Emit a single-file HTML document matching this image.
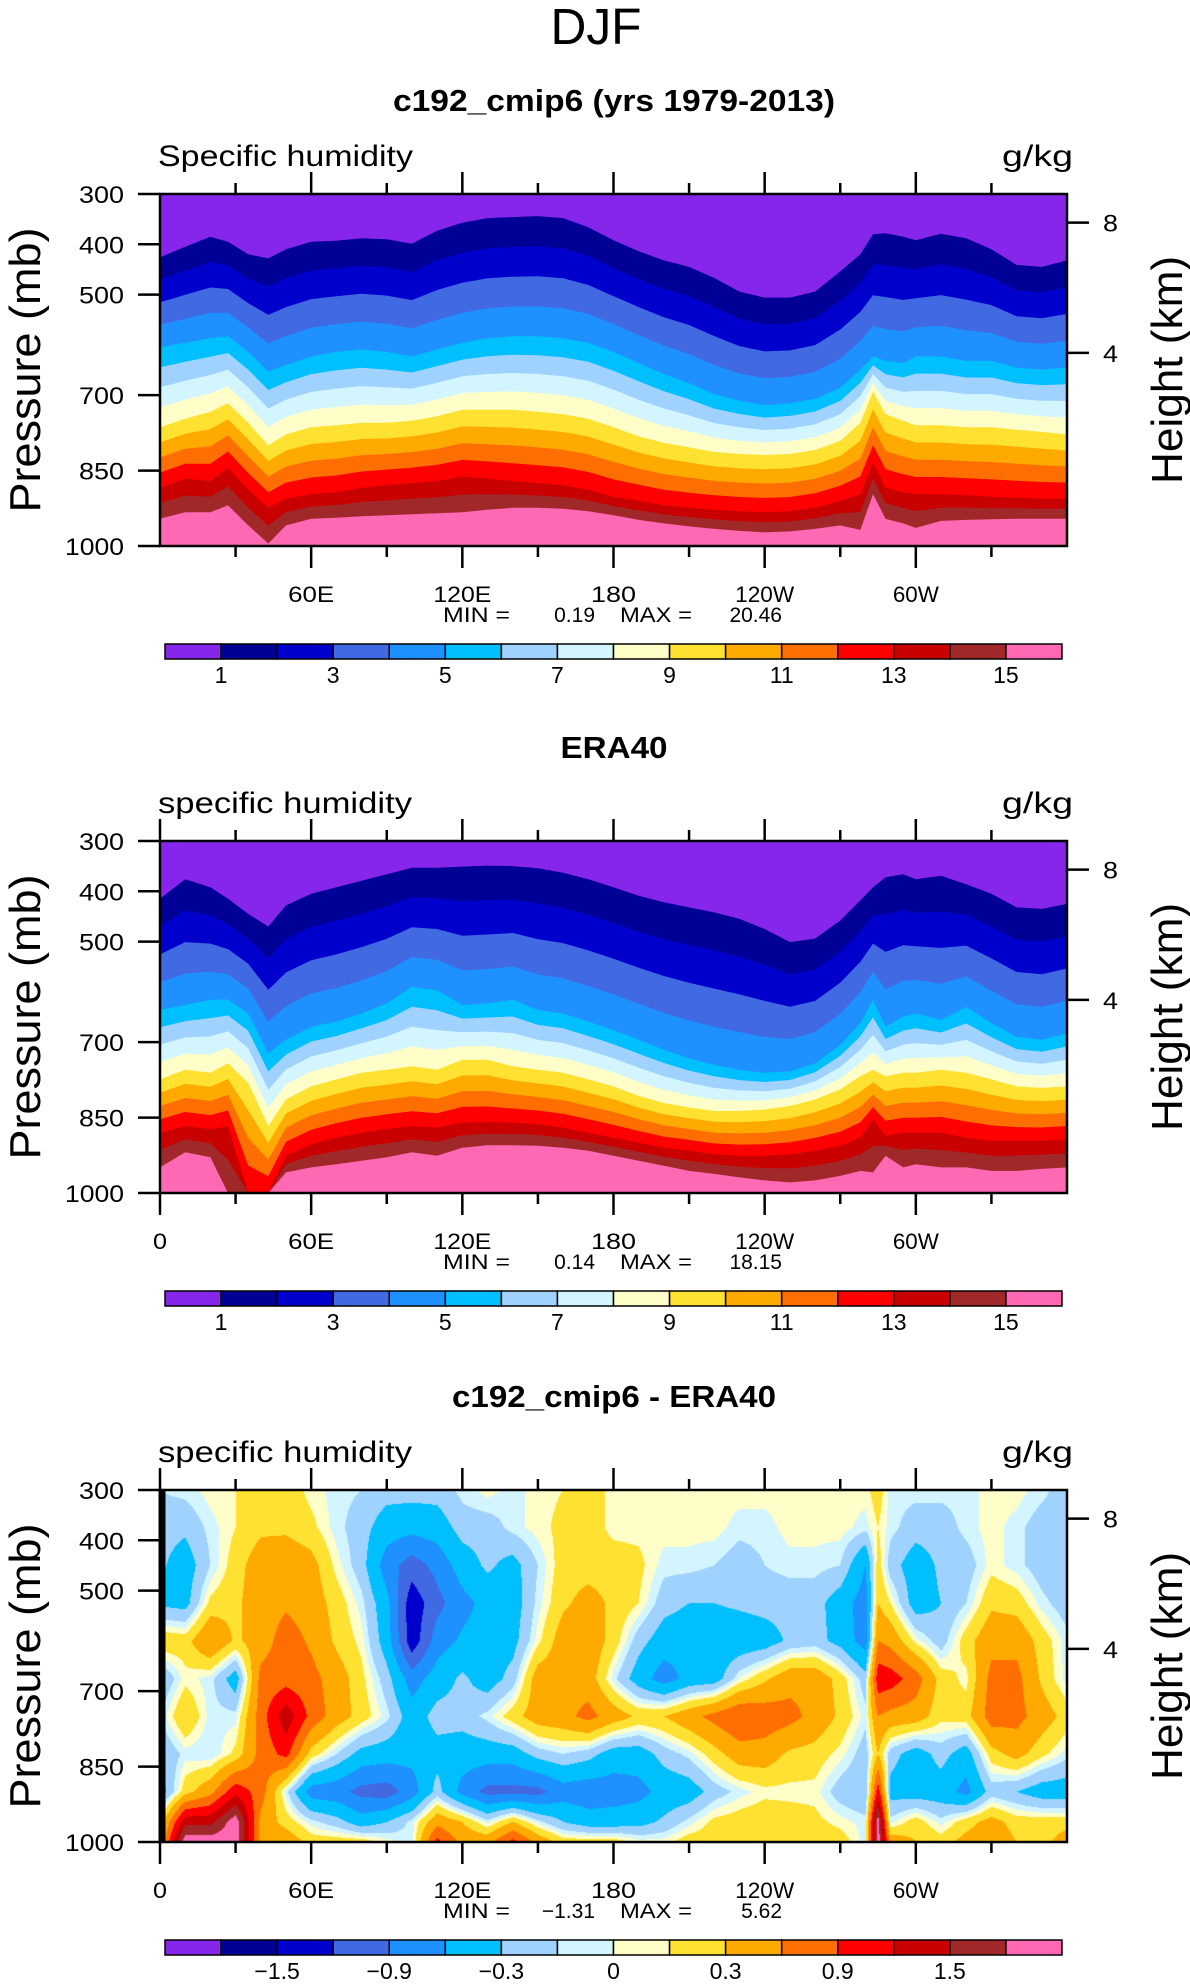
<!DOCTYPE html>
<html><head><meta charset="utf-8"><style>
html,body{margin:0;padding:0;background:#fff;}
#wrap{position:relative;width:1190px;height:1987px;overflow:hidden;}
#diffCanvas{position:absolute;left:160px;top:1490px;}
svg{position:absolute;left:0;top:0;}
text{font-family:"Liberation Sans",sans-serif;fill:#000;}
</style></head><body>
<div id="wrap">
<canvas id="diffCanvas" width="907" height="352"></canvas>
<svg id="fig" width="1190" height="1987" viewBox="0 0 1190 1987" xmlns="http://www.w3.org/2000/svg"></svg>
</div>
<script>
// ---------- data ----------
const LON = [0,10,20,27,35,43,50,60,70,80,90,100,110,120,130,140,150,160,170,180,190,200,210,220,230,240,250,260,270,278,283,288,295,300,310,320,330,340,350,360];
// model: pressure (mb) of q contours 1,5,9,13,15 g/kg
const M_Q1 = [426,405,385,395,420,428,410,395,393,388,390,399,373,357,348,346,344,348,366,392,414,432,445,467,494,506,506,494,454,420,380,378,385,392,379,388,410,441,445,432];
const M_Q5 = [605,596,587,583,614,653,640,623,614,609,614,623,609,596,587,583,583,587,596,614,636,658,676,698,711,720,716,707,685,649,623,632,636,623,623,632,632,645,649,645];
const M_Q9 = [764,747,733,716,755,800,778,764,760,755,755,751,742,729,729,729,733,738,747,764,782,795,804,813,817,819,817,809,791,755,693,738,751,760,760,764,764,769,773,778];
const M_Q13 = [884,866,871,844,888,924,906,897,893,884,879,875,871,862,866,871,875,879,888,902,910,919,924,928,931,933,931,924,910,897,835,884,893,897,897,899,902,904,906,906];
const M_Q15 = [946,933,933,919,959,995,959,946,944,941,939,937,935,933,928,924,924,926,931,939,948,955,961,966,970,973,971,966,959,968,897,946,955,964,950,948,947,946,946,946];
// ERA40
const E_Q1 = [415,376,392,415,445,470,428,405,392,379,366,353,353,351,349,350,354,363,376,392,409,422,432,442,455,475,501,494,458,418,392,372,366,376,369,386,405,432,435,425];
const E_Q5 = [636,626,616,615,643,722,695,669,659,643,623,590,597,626,623,616,636,643,659,676,695,715,732,745,755,761,758,742,705,662,616,669,649,643,656,630,662,689,695,682];
const E_Q9 = [774,755,761,742,781,867,814,788,774,761,755,748,755,735,735,748,755,761,774,788,807,821,830,837,837,834,827,814,794,768,755,768,761,761,755,761,774,788,791,788];
const E_Q13 = [880,867,873,867,1000,1000,926,903,890,880,873,867,870,860,859,860,863,870,880,890,900,910,916,923,926,926,923,916,906,890,854,886,880,880,880,890,896,896,896,893];
const E_Q15 = [949,919,929,1000,1000,1000,959,949,943,936,929,919,926,910,905,905,906,910,916,926,936,946,956,962,969,975,979,975,966,956,959,926,949,943,949,949,956,956,952,949];
const Q_ANCHORS = [1,5,9,13,15];
const Q_LEVELS = [1,2,3,4,5,6,7,8,9,10,11,12,13,14,15];
const Q_TICKS = ["1","3","5","7","9","11","13","15"];
// difference grid
const D_LON = [0,10,20,30,40,50,60,70,80,90,100,110,120,130,140,150,160,170,180,190,200,210,220,230,240,250,260,270,280,285,290,300,310,320,330,340,350,360];
const D_P = [300,375,450,525,600,675,750,825,900,960,1000];
const D300 = [-0.1,-0.05,0.05,0.1,0.2,0.2,0.05,-0.05,-0.1,-0.2,-0.2,-0.2,-0.05,0.05,-0.05,0.05,0.1,0.2,0.05,0.05,0.05,0.05,0.05,0.05,0.05,0.05,0.05,0.05,0.05,0.2,-0.05,-0.05,-0.05,-0.05,0.05,0.05,-0.05,-0.2];
const D375 = [-0.2,-0.25,-0.05,0.1,0.25,0.25,0.15,-0.05,-0.2,-0.45,-0.5,-0.45,-0.2,-0.2,-0.05,0.05,0.15,0.2,0.05,0.05,0.05,0.05,0.05,-0.05,-0.05,0.05,0.05,0.05,-0.05,0.1,-0.05,-0.2,-0.2,-0.05,0.05,-0.05,-0.2,-0.2];
const D450 = [-0.25,-0.45,-0.1,0.2,0.45,0.5,0.4,0.05,-0.2,-0.75,-1.05,-0.8,-0.45,-0.25,-0.4,-0.1,0.2,0.2,0.2,0.15,-0.05,-0.05,-0.1,-0.2,-0.1,-0.05,-0.05,-0.1,-0.6,0.2,-0.2,-0.45,-0.25,-0.2,0.05,-0.05,-0.2,-0.25];
const D525 = [-0.35,-0.4,0.15,0.25,0.45,0.55,0.45,0.2,-0.05,-0.5,-1.4,-1.0,-0.7,-0.5,-0.45,-0.05,0.25,0.4,0.25,0.1,-0.2,-0.3,-0.3,-0.25,-0.2,-0.2,-0.2,-0.45,-0.75,0.3,0.1,-0.45,-0.3,-0.1,0.25,0.2,-0.05,-0.2];
const D600 = [0.25,0.2,0.6,0.25,0.45,0.75,0.55,0.25,0.05,-0.45,-1.4,-0.75,-0.55,-0.45,-0.4,0.05,0.45,0.5,0.2,-0.2,-0.45,-0.5,-0.5,-0.5,-0.45,-0.25,-0.2,-0.4,-0.75,0.6,0.5,0.05,-0.2,0.2,0.5,0.5,0.2,-0.05];
const D675 = [-0.3,0.05,-0.05,-0.45,0.7,0.75,0.7,0.45,0.15,-0.2,-0.75,-0.45,-0.25,-0.45,-0.2,0.45,0.45,0.45,-0.05,-0.45,-0.75,-0.5,-0.45,0.0,0.25,0.5,0.5,0.2,-0.2,1.1,1.05,0.75,0.2,0.05,0.7,0.7,0.25,-0.05];
const D750 = [-0.1,0.3,-0.05,-0.05,0.75,1.4,0.8,0.45,0.2,-0.05,-0.45,-0.2,-0.2,-0.05,0.2,0.45,0.5,0.7,0.45,0.25,0.3,0.5,0.7,0.9,0.8,0.7,0.5,0.25,-0.05,0.6,0.5,0.45,0.15,0.2,0.75,0.7,0.45,0.2];
const D825 = [-0.3,-0.05,-0.1,0.15,0.7,1.0,0.2,-0.1,-0.4,-0.45,-0.5,-0.4,-0.45,-0.45,-0.45,-0.2,-0.1,-0.2,-0.45,-0.45,-0.2,-0.05,0.2,0.45,0.45,0.25,0.2,0.05,-0.2,0.3,-0.2,-0.45,-0.2,-0.45,0.2,0.4,0.15,-0.05];
const D900 = [-0.45,0.2,0.5,1.1,0.75,-0.05,-0.75,-0.8,-1.0,-1.05,-0.75,-0.2,-0.7,-1.0,-1.0,-1.0,-0.75,-0.8,-0.75,-0.7,-0.5,-0.45,-0.2,-0.05,0.05,0.05,0.05,-0.2,-0.3,1.1,-0.4,-0.45,-0.45,-0.7,-0.2,-0.3,-0.45,-0.45];
const D960 = [0.1,1.4,1.4,2.0,0.5,0.2,-0.05,-0.2,-0.45,-0.3,-0.05,0.5,0.3,-0.05,0.3,-0.05,-0.3,-0.45,-0.45,-0.4,-0.25,-0.05,0.15,0.2,0.25,0.2,0.15,0.05,-0.05,2.0,-0.05,0.2,-0.05,0.2,0.4,0.2,0.2,0.2];
const D1000 = [0.3,2.0,2.0,2.0,0.5,0.5,0.2,0.2,0.2,0.05,-0.05,1.0,0.5,0.5,1.0,0.5,0.2,0.2,0.2,0.05,0.05,0.2,0.2,0.2,0.2,0.2,0.2,0.2,-0.05,2.0,0.5,0.3,0.2,0.4,0.5,0.3,0.2,0.45];
const D_LEVELS = [-1.8,-1.5,-1.2,-0.9,-0.6,-0.3,-0.1,0,0.1,0.3,0.6,0.9,1.2,1.5,1.8];
const D_TICKS = ["\u22121.5","\u22120.9","\u22120.3","0","0.3","0.9","1.5"];
const P_TICKS = [300,400,500,700,850,1000];
const KM_TICKS = [8,4];
const KM_P = [357,616];
const LON_MAJOR = [0,60,120,180,240,300];
const LON_LABELS = ["0","60E","120E","180","120W","60W"];
const COLORS = ["#8726EB","#000096","#0000CD","#4169E1","#1E90FF","#00BFFF","#A0D2FF","#D2F5FF","#FFFDC8","#FFE132","#FFAA00","#FF6E00","#FF0000","#C80000","#A02828","#FF69B4"];

// ---------- helpers ----------
const NS="http://www.w3.org/2000/svg";
const svg=document.getElementById('fig');
const PX0=160, PX1=1067, PH=352;
function xOf(lon){return PX0+(lon/360)*(PX1-PX0);}
function yOf(p,top){return top+((p-300)/700)*PH;}
function mk(tag,attrs,parent){const e=document.createElementNS(NS,tag);for(const k in attrs)e.setAttribute(k,attrs[k]);(parent||svg).appendChild(e);return e;}
function txt(str,x,y,size,anchor,len,extra){
  const t=mk('text',Object.assign({x:x,y:y,'font-size':size,'text-anchor':anchor||'start'},extra||{}));
  if(len){t.setAttribute('textLength',len);t.setAttribute('lengthAdjust','spacingAndGlyphs');}
  t.textContent=str;return t;
}

function levelLine(arrs,level){
  let i=0; while(i<Q_ANCHORS.length-2 && level>Q_ANCHORS[i+1]) i++;
  const a=Q_ANCHORS[i],b=Q_ANCHORS[i+1],f=(level-a)/(b-a);
  return LON.map((l,j)=>arrs[i][j]+(arrs[i+1][j]-arrs[i][j])*f);
}

function drawContours(arrs,top,name){
  const g=mk('g',{});
  
  
  const bg=mk('rect',{x:PX0,y:top,width:PX1-PX0,height:PH,fill:COLORS[0]},g);
  
  
  Q_LEVELS.forEach((lv,k)=>{
    const line=levelLine(arrs,lv);
    let pts=LON.map((l,j)=>xOf(l).toFixed(1)+','+yOf(Math.min(1000,line[j]),top).toFixed(1));
    pts.push(PX1+','+(top+PH)); pts.push(PX0+','+(top+PH));
    const poly=mk('polygon',{points:pts.join(' '),fill:COLORS[k+1]},g);
    
    
  });
}

function drawAxes(top,opts){
  const bot=top+PH;
  // lon ticks
  for(let lon=0;lon<=360;lon+=30){
    const major=lon%60===0; const x=xOf(lon);
    if(lon===0 && !opts.zeroTick) continue;
    if(lon===360) continue;
    const L=major?22:11;
    const t1=mk('line',{x1:x,y1:top,x2:x,y2:top-L,stroke:'#000','stroke-width':2.5});
    
    
    const t2=mk('line',{x1:x,y1:bot,x2:x,y2:bot+L,stroke:'#000','stroke-width':2.5});
    
    
  }
  LON_MAJOR.forEach((lon,i)=>{
    if(lon===0 && !opts.zeroTick) return;
    const lens={"0":14,"60E":46,"120E":58,"180":45,"120W":59,"60W":46};
    const t=txt(LON_LABELS[i],xOf(lon),bot+56,22,'middle',lens[LON_LABELS[i]]);
    
    
  });
  P_TICKS.forEach(p=>{
    const y=yOf(p,top);
    const l=mk('line',{x1:138,y1:y,x2:PX0,y2:y,stroke:'#000','stroke-width':2.5});
    
    
    const t=txt(String(p),124,y+9,24,'end',p===1000?59:45);
    
    
  });
  KM_TICKS.forEach((km,i)=>{
    const y=yOf(KM_P[i],top);
    const l=mk('line',{x1:PX1,y1:y,x2:PX1+22,y2:y,stroke:'#000','stroke-width':2.5});
    
    
    const t=txt(String(km),1103,y+9,24,'start',15);
    
    
  });
  const fr=mk('rect',{x:PX0,y:top,width:PX1-PX0,height:PH,fill:'none',stroke:'#000','stroke-width':2.5});
  
  
  const yl=txt('Pressure  (mb)',0,0,44,'middle',285,{transform:'translate(40,'+(top+PH/2)+') rotate(-90)'});
  
  
  const hl=txt('Height  (km)',0,0,44,'middle',228,{transform:'translate(1182,'+(top+PH/2)+') rotate(-90)'});
  
  
}

function drawHeader(top,title,tlen,sub,sublen){
  const t=txt(title,614,top-83,31,'middle',tlen,{'font-weight':'bold'});
  
  
  const s=txt(sub,158,top-28,30,'start',sublen);
  
  
  const u=txt('g/kg',1002,top-28,30,'start',71);
  
  
}

function drawMinMax(top,mn,mx){
  const y=top+PH+76;
  const g=mk('g',{});
  
  
  txt('MIN =',443,y,20,'start',67).remove(); 
  [['MIN =',443,67],[mn,595,0],['MAX =',620,72],[mx,782,0]].forEach(a=>{
    const t=mk('text',{x:a[1],y:y,'font-size':21,'text-anchor':a[2]?'start':'end'},g);
    if(a[2]){t.setAttribute('textLength',a[2]);t.setAttribute('lengthAdjust','spacingAndGlyphs');}
    t.textContent=a[0];
  });
}

function drawColorbar(top,labels,labelIdx,name){
  const y=top+PH+98; const x0=165, w=(1062-165)/16;
  const g=mk('g',{});
  
  
  COLORS.forEach((c,i)=>{
    const r=mk('rect',{x:x0+i*w,y:y,width:w,height:15,fill:c,stroke:'#000','stroke-width':1.5},g);
    
    
  });
  labels.forEach((lab,i)=>{
    const t=mk('text',{x:x0+labelIdx[i]*w,y:y+39,'font-size':23,'text-anchor':'middle'},g);
    
    
    t.textContent=lab;
  });
}

// ---------- panel 1 ----------
const T1=194, T2=841, T3=1490;
const dj=txt('DJF',596,44,51,'middle',91);



drawHeader(T1,'c192_cmip6 (yrs 1979-2013)',442,'Specific humidity',255);
drawContours([M_Q1,M_Q5,M_Q9,M_Q13,M_Q15],T1,'model-contours');
drawAxes(T1,{zeroTick:false});
drawMinMax(T1,'0.19','20.46');
drawColorbar(T1,Q_TICKS,[1,3,5,7,9,11,13,15],'colorbar-model');

// ---------- panel 2 ----------
drawHeader(T2,'ERA40',107,'specific humidity',254);
drawContours([E_Q1,E_Q5,E_Q9,E_Q13,E_Q15],T2,'era40-contours');
drawAxes(T2,{zeroTick:true});
drawMinMax(T2,'0.14','18.15');
drawColorbar(T2,Q_TICKS,[1,3,5,7,9,11,13,15],'colorbar-era40');

// ---------- panel 3 ----------
const D_ROWS=[D300,D375,D450,D525,D600,D675,D750,D825,D900,D960,D1000];
(function(){
  const cv=document.getElementById('diffCanvas');const ctx=cv.getContext('2d');
  const W=cv.width,H=cv.height;const img=ctx.createImageData(W,H);
  const rgb=COLORS.map(c=>[parseInt(c.substr(1,2),16),parseInt(c.substr(3,2),16),parseInt(c.substr(5,2),16)]);
  function seg(arr,v){let i=0;while(i<arr.length-2&&v>arr[i+1])i++;return [i,(v-arr[i])/(arr[i+1]-arr[i])];}
  for(let py=0;py<H;py++){
    const p=300+(py+0.5)/H*700; const [pi,pf]=seg(D_P,p);
    for(let px=0;px<W;px++){
      const lon=(px+0.5)/W*360; const [li,lf]=seg(D_LON,lon);
      const a=D_ROWS[pi][li]*(1-lf)+D_ROWS[pi][li+1]*lf;
      const b=D_ROWS[pi+1][li]*(1-lf)+D_ROWS[pi+1][li+1]*lf;
      const v=a*(1-pf)+b*pf;
      let k=0;while(k<D_LEVELS.length&&v>=D_LEVELS[k])k++;
      const o=(py*W+px)*4;img.data[o]=rgb[k][0];img.data[o+1]=rgb[k][1];img.data[o+2]=rgb[k][2];img.data[o+3]=255;
    }
  }
  ctx.putImageData(img,0,0);
})();
drawHeader(T3,'c192_cmip6 - ERA40',324,'specific humidity',254);
drawAxes(T3,{zeroTick:true});
const lb=mk('line',{x1:162,y1:T3,x2:162,y2:T3+PH,stroke:'#000','stroke-width':7});


drawMinMax(T3,'\u22121.31','5.62');
drawColorbar(T3,D_TICKS,[2,4,6,8,10,12,14],'colorbar-difference');
</script>
</body></html>
